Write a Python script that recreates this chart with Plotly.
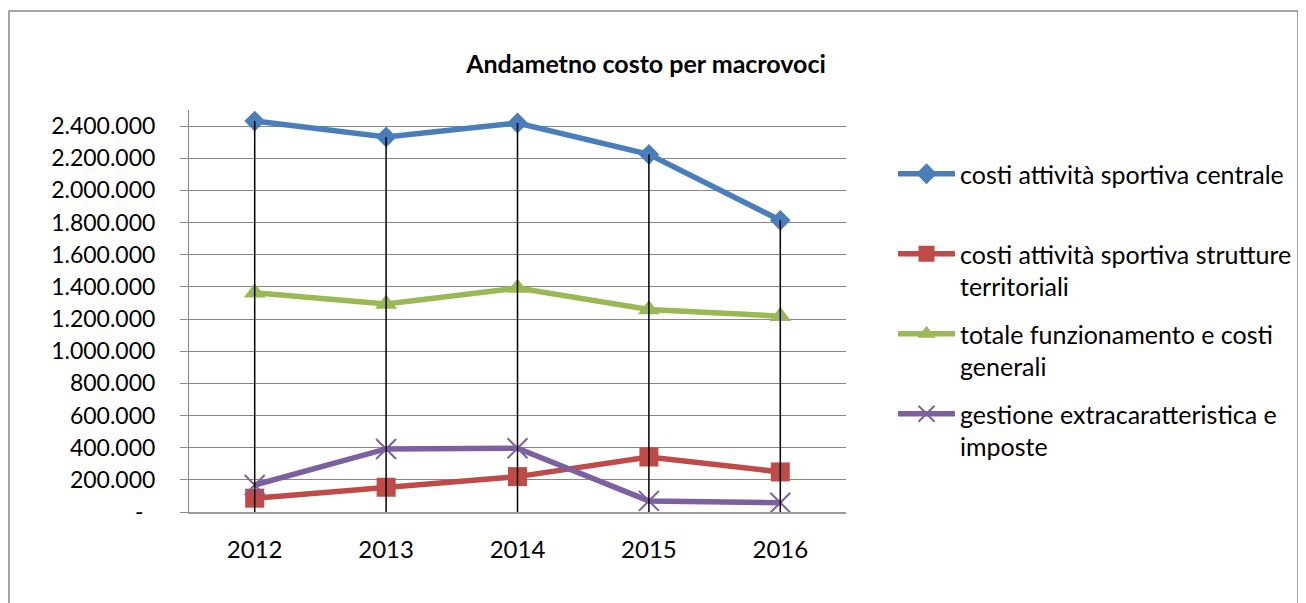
import plotly.graph_objects as go

# ---- data ----
years = ["2012", "2013", "2014", "2015", "2016"]
series_names = [
    "costi attività sportiva centrale<br>\u00a0",
    "costi attività sportiva strutture<br>territoriali",
    "totale funzionamento e costi<br>generali",
    "gestione extracaratteristica e<br>imposte",
]
centrale = [2431000, 2332000, 2419000, 2224000, 1814000]
strutture = [86000, 154000, 220000, 342000, 249000]
funzionamento = [1364000, 1293000, 1393000, 1260000, 1218000]
extracaratteristica = [168000, 392000, 396000, 69000, 58000]
y_tickvals = [0, 200000, 400000, 600000, 800000, 1000000, 1200000,
              1400000, 1600000, 1800000, 2000000, 2200000, 2400000]
y_ticktext = ["-\u00a0\u00a0", "200.000", "400.000", "600.000", "800.000",
              "1.000.000", "1.200.000", "1.400.000", "1.600.000", "1.800.000",
              "2.000.000", "2.200.000", "2.400.000"]
title_text = "<b>Andametno costo per macrovoci</b>"

# ---- styling ----
FONT = "Lato"
colors = ["#4A7EBB", "#BE4B48", "#98B954", "#7D60A0"]
symbols = ["diamond", "square", "triangle-up", "x-thin"]
sizes = [16, 19, 19, 20]
OFF = 8  # page body margin
W, H = 1306 - OFF, 603 - OFF
ML, MR, MT, MB = 189 - OFF, 1306 - 846, 110 - OFF, 603 - 512
grid = "#878787"

all_series = [centrale, strutture, funzionamento, extracaratteristica]

fig = go.Figure()
for name, vals, c, s, sz in zip(series_names, all_series, colors, symbols, sizes):
    marker = dict(symbol=s, size=sz, color=c)
    if s == "x-thin":
        marker["line"] = dict(color=c, width=2)
    fig.add_trace(go.Scatter(
        x=years, y=vals, name=name, mode="lines+markers",
        line=dict(color=c, width=5.5), marker=marker,
        legendgroup=name,
    ))

# drop lines from the highest point of each category down to the axis
dx, dy = [], []
for i, yr in enumerate(years):
    top = max(v[i] for v in all_series)
    dx += [yr, yr, None]
    dy += [top, 0, None]
fig.add_trace(go.Scatter(x=dx, y=dy, mode="lines", showlegend=False,
                         line=dict(color="black", width=1.5), hoverinfo="skip"))

pw = W - ML - MR
ph = H - MT - MB
def px_x(p):
    return (p - OFF - ML) / pw
def px_y(p):
    return (H - MB - (p - OFF)) / ph

fig.add_shape(type="rect", xref="paper", yref="paper",
              x0=px_x(9), x1=px_x(1298), y0=px_y(615), y1=px_y(11),
              line=dict(color=grid, width=1.5), fillcolor="rgba(0,0,0,0)", layer="below")

fig.update_layout(
    width=W, height=H,
    margin=dict(l=ML, r=MR, t=MT, b=MB),
    paper_bgcolor="white", plot_bgcolor="white",
    font=dict(family=FONT, size=24, color="black"),
    title=dict(text=title_text, x=(646 - OFF) / W, xanchor="center",
               y=1 - (64 - OFF) / H, yanchor="middle",
               font=dict(family=FONT, size=25, color="black")),
    showlegend=True,
    legend=dict(xref="container", yref="container",
                x=(912 - 27) / W, xanchor="left", y=1 - 143 / H, yanchor="top",
                valign="top", tracegroupgap=12, maxheight=600, itemwidth=57,
                font=dict(family=FONT, size=25, color="black"),
                bgcolor="rgba(0,0,0,0)"),
    xaxis=dict(type="category", range=[-0.5, 4.5], showgrid=False,
               showline=True, linecolor="#9a9a9a", linewidth=2,
               ticks="", ticklabelstandoff=15,
               tickfont=dict(family=FONT, size=24, color="black")),
    yaxis=dict(range=[0, 2500000], tickmode="array", tickvals=y_tickvals,
               ticktext=y_ticktext, showgrid=True, gridcolor=grid, gridwidth=1,
               showline=True, linecolor=grid, linewidth=1, zeroline=False,
               ticks="outside", ticklen=8, tickcolor=grid, tickwidth=1,
               ticklabelstandoff=20,
               tickfont=dict(family=FONT, size=23, color="black")),
)

fig.write_html("out.html")
